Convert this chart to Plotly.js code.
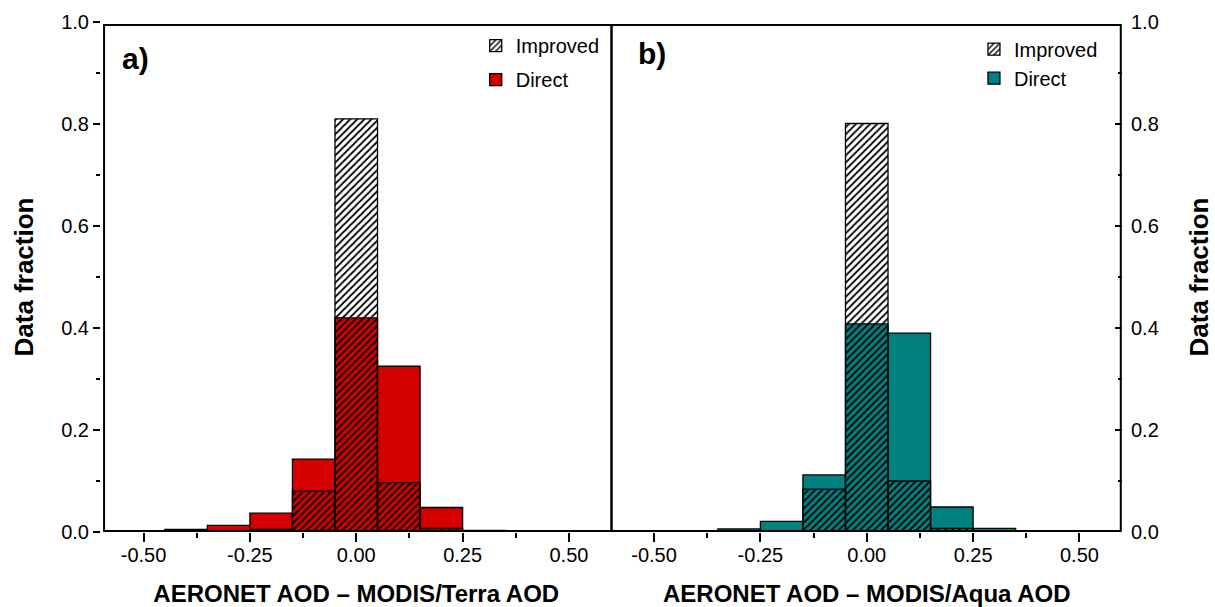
<!DOCTYPE html>
<html>
<head>
<meta charset="utf-8">
<script src="https://cdn.plot.ly/plotly-3.0.1.min.js"></script>
<style>html,body{margin:0;padding:0;background:#fff}#chart{width:1215px;height:607px}</style>
</head>
<body>
<div id="chart"></div>
<script>
// Bin centres (AOD difference), width 0.1
const binCenters = [-0.5, -0.4, -0.3, -0.2, -0.1, 0.0, 0.1, 0.2, 0.3, 0.4, 0.5];
// Panel a) MODIS/Terra
const terraDirect   = [0.001, 0.005, 0.013, 0.037, 0.143, 0.420, 0.325, 0.048, 0.003, 0.001, 0.000];
const terraImproved = [0.000, 0.000, 0.001, 0.005, 0.080, 0.810, 0.097, 0.007, 0.001, 0.000, 0.000];
// Panel b) MODIS/Aqua
const aquaDirect    = [0.001, 0.002, 0.006, 0.021, 0.112, 0.408, 0.390, 0.049, 0.007, 0.001, 0.001];
const aquaImproved  = [0.000, 0.000, 0.001, 0.002, 0.084, 0.801, 0.100, 0.007, 0.001, 0.000, 0.000];
// Tick labels
const xTickVals = [-0.5, -0.25, 0, 0.25, 0.5];
const xTickText = ['-0.50', '-0.25', '0.00', '0.25', '0.50'];
const yTickVals = [0, 0.2, 0.4, 0.6, 0.8, 1.0];
const yTickText = ['0.0', '0.2', '0.4', '0.6', '0.8', '1.0'];

const FONT = 'Liberation Sans, Arial, Helvetica, sans-serif';
const RED = '#d40000';
const TEAL = '#008080';
const lineStyle = {color: '#000', width: 1.3};
const hatch = {shape: '/', fgcolor: '#000', bgcolor: 'rgba(0,0,0,0)', size: 5, solidity: 0.35};

function direct(y, color, xa, ya, lg, grp) {
  return {type: 'bar', x: binCenters, y: y, width: 0.1, name: 'Direct',
    xaxis: xa, yaxis: ya, legend: lg, legendgroup: grp, legendrank: 2,
    marker: {color: color, line: lineStyle}, hoverinfo: 'x+y'};
}
function improved(y, xa, ya, lg, grp) {
  return {type: 'bar', x: binCenters, y: y, width: 0.1, name: 'Improved',
    xaxis: xa, yaxis: ya, legend: lg, legendgroup: grp, legendrank: 1,
    marker: {color: 'rgba(0,0,0,0)', line: lineStyle, pattern: hatch}, hoverinfo: 'x+y'};
}

const traces = [
  direct(terraDirect, RED, 'x', 'y', 'legend', 'da'),
  improved(terraImproved, 'x', 'y', 'legend', 'ia'),
  direct(aquaDirect, TEAL, 'x2', 'y2', 'legend2', 'db'),
  improved(aquaImproved, 'x2', 'y2', 'legend2', 'ib')
];

const tickFont = {family: FONT, size: 20, color: '#000'};
const xTitleFont = {family: FONT, size: 24, color: '#000', weight: 'bold'};
const yTitleFont = {family: FONT, size: 26, color: '#000', weight: 'bold'};

function xBottom(domain, anchor, title) {
  return {domain: domain, anchor: anchor, range: [-0.6, 0.6], showgrid: false, zeroline: false,
    showline: false, ticks: 'outside', ticklen: 9, tickwidth: 1.5, ticklabelstandoff: -4,
    tickcolor: '#000', tickmode: 'array', tickvals: xTickVals, ticktext: xTickText, tickfont: tickFont,
    minor: {ticks: 'outside', ticklen: 5, tickwidth: 1.5, tickcolor: '#000', dtick: 0.125, tick0: 0, showgrid: false},
    title: {text: title, font: xTitleFont, standoff: 21}, automargin: false, fixedrange: true};
}
function xTop(over, anchor) {
  return {overlaying: over, anchor: anchor, side: 'top', range: [-0.6, 0.6], showgrid: false, zeroline: false,
    showline: false, ticks: 'inside', ticklen: 7, tickwidth: 1.5,
    tickcolor: '#000', tickmode: 'array', tickvals: xTickVals, showticklabels: false,
    minor: {ticks: 'inside', ticklen: 7, tickwidth: 1.5, tickcolor: '#000', dtick: 0.125, tick0: 0, showgrid: false},
    automargin: false, fixedrange: true};
}
// Panel frames, pulled in slightly so the outer edges stay visible
function frame(x0, x1) {
  return {type: 'rect', xref: 'paper', yref: 'paper', x0: x0, x1: x1, y0: 0.002, y1: 0.994,
    line: {color: '#000', width: 2}, fillcolor: 'rgba(0,0,0,0)', layer: 'above'};
}

const layout = {
  width: 1215, height: 607,
  margin: {l: 101, r: 93, t: 22, b: 75},
  paper_bgcolor: '#fff', plot_bgcolor: 'rgba(0,0,0,0)',
  font: {family: FONT, color: '#000'},
  barmode: 'overlay',
  showlegend: true,
  xaxis: xBottom([0, 0.5], 'y', 'AERONET AOD \u2013 MODIS/Terra AOD'),
  xaxis2: xBottom([0.5, 1], 'y2', 'AERONET AOD \u2013 MODIS/Aqua AOD'),
  xaxis3: xTop('x', 'y'),
  xaxis4: xTop('x2', 'y2'),
  yaxis: {domain: [0, 1], anchor: 'x', range: [0, 1], showgrid: false, zeroline: false,
    showline: false, ticks: 'outside', ticklen: 7, tickwidth: 1.5,
    tickcolor: '#000', tickmode: 'array', tickvals: yTickVals, ticktext: yTickText, tickfont: tickFont,
    minor: {ticks: 'outside', ticklen: 4, tickwidth: 1.5, tickcolor: '#000', dtick: 0.1, tick0: 0, showgrid: false},
    title: {text: 'Data fraction', font: yTitleFont, standoff: 20}, automargin: false, fixedrange: true},
  yaxis3: {overlaying: 'y', anchor: 'x', side: 'right', range: [0, 1], showgrid: false, zeroline: false,
    showline: false, ticks: 'inside', ticklen: 7, tickwidth: 1.5,
    tickcolor: '#000', tickmode: 'array', tickvals: yTickVals, showticklabels: false,
    minor: {ticks: 'inside', ticklen: 4, tickwidth: 1.5, tickcolor: '#000', dtick: 0.1, tick0: 0, showgrid: false},
    automargin: false, fixedrange: true},
  yaxis2: {domain: [0, 1], anchor: 'x2', side: 'right', range: [0, 1], showgrid: false, zeroline: false,
    showline: false, ticks: 'inside', ticklen: 7, tickwidth: 1.5,
    tickcolor: '#000', tickmode: 'array', tickvals: yTickVals, ticktext: yTickText, tickfont: tickFont,
    ticklabelstandoff: 8,
    minor: {ticks: 'inside', ticklen: 4, tickwidth: 1.5, tickcolor: '#000', dtick: 0.1, tick0: 0, showgrid: false},
    title: {text: 'Data fraction', font: yTitleFont, standoff: 31}, automargin: false, fixedrange: true},
  legend: {x: 0.367, y: 0.992, xanchor: 'left', yanchor: 'top', bgcolor: 'rgba(0,0,0,0)',
    font: {family: FONT, size: 20, color: '#000'}, traceorder: 'grouped', tracegroupgap: 5, itemclick: false},
  legend2: {x: 0.855, y: 0.985, xanchor: 'left', yanchor: 'top', bgcolor: 'rgba(0,0,0,0)',
    font: {family: FONT, size: 20, color: '#000'}, traceorder: 'grouped', tracegroupgap: 0, itemclick: false},
  shapes: [frame(0.003, 0.5), frame(0.5, 0.9988)],
  annotations: [
    {xref: 'paper', yref: 'paper', x: 0.019, y: 0.929, xanchor: 'left', yanchor: 'middle', showarrow: false,
     text: 'a)', font: {family: FONT, size: 30, color: '#000', weight: 'bold'}},
    {xref: 'paper', yref: 'paper', x: 0.524, y: 0.939, xanchor: 'left', yanchor: 'middle', showarrow: false,
     text: 'b)', font: {family: FONT, size: 30, color: '#000', weight: 'bold'}}
  ]
};

Plotly.newPlot('chart', traces, layout, {displayModeBar: false});
</script>
</body>
</html>
